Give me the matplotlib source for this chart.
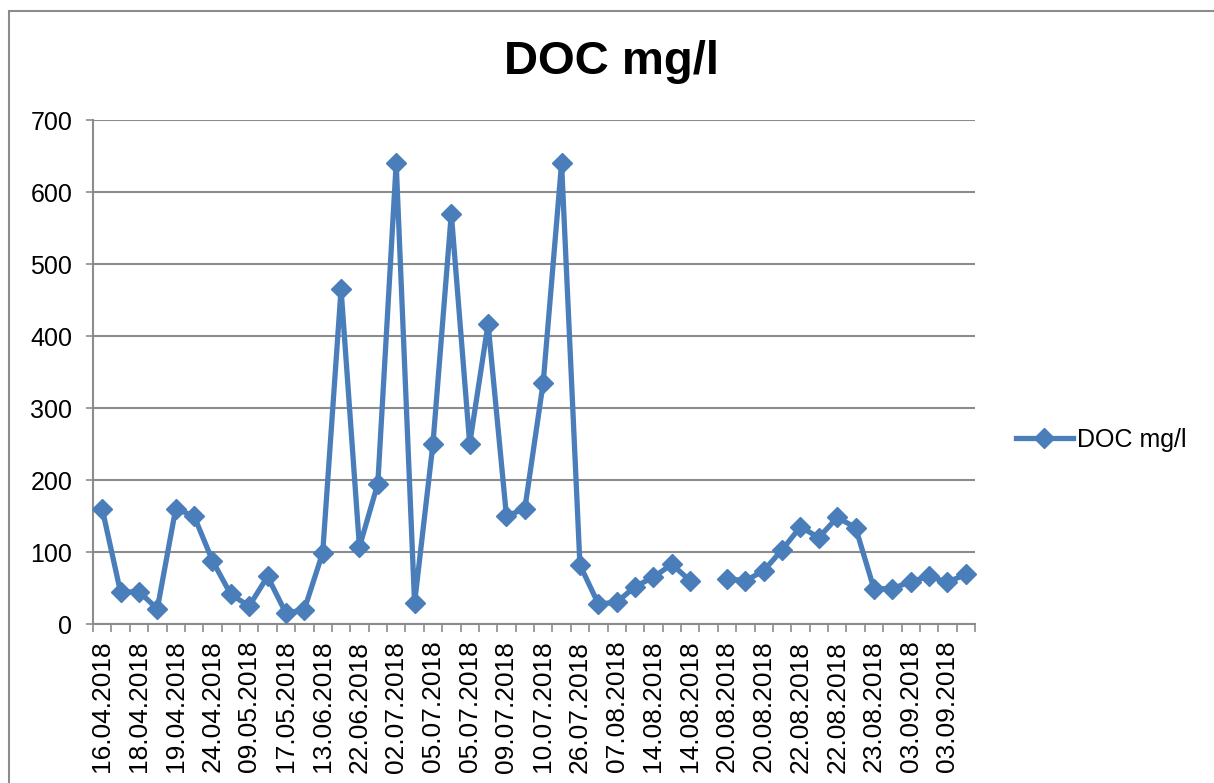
import numpy as np
import matplotlib
matplotlib.use("Agg")
import matplotlib.pyplot as plt
from matplotlib.patches import Rectangle

# DOC values per sample (one sample missing -> nan)
doc_values = [160, 44, 45, 21, 160, 150, 88, 41, 25, 66,
              15, 20, 99, 465, 107, 195, 640, 29, 250, 570,
              250, 417, 150, 160, 335, 640, 82, 28, 30, 52,
              65, 83, 60, np.nan, 63, 60, 74, 103, 135, 120,
              148, 134, 49, 49, 59, 66, 58, 69]

# only every second category label is printed on the axis
shown_labels = ["16.04.2018", "18.04.2018", "19.04.2018", "24.04.2018",
                "09.05.2018", "17.05.2018", "13.06.2018", "22.06.2018",
                "02.07.2018", "05.07.2018", "05.07.2018", "09.07.2018",
                "10.07.2018", "26.07.2018", "07.08.2018", "14.08.2018",
                "14.08.2018", "20.08.2018", "20.08.2018", "22.08.2018",
                "22.08.2018", "23.08.2018", "03.09.2018", "03.09.2018"]

y_ticks = [0, 100, 200, 300, 400, 500, 600, 700]

plt.rcParams['font.family'] = ['Liberation Sans', 'DejaVu Sans']
blue = '#4A7EBB'
grey = '#8C8C8C'

fig = plt.figure(figsize=(12.14, 7.83), dpi=100)
ax = fig.add_axes([93/1214, 1-624/783, (975-93)/1214, (624-120)/783])

x = np.arange(len(doc_values))
ax.plot(x, doc_values, color=blue, lw=3.8, marker='D', ms=10.5,
        mec=blue, mfc=blue, mew=1, label='DOC mg/l', clip_on=False, zorder=3)

ax.set_xlim(-0.5, len(doc_values) - 0.5)
ax.set_ylim(0, 700)
ax.set_yticks(y_ticks)
ax.set_yticklabels([str(v) for v in y_ticks], fontsize=18)
ax.yaxis.grid(True, color=grey, lw=1.5)
ax.set_axisbelow(True)

ax.set_xticks(x[::2])
ax.set_xticklabels(shown_labels, rotation=90, fontsize=19, va='top')
ax.set_xticks(np.arange(len(doc_values) + 1) - 0.5, minor=True)
ax.tick_params(axis='x', which='major', length=0, pad=12)
ax.tick_params(axis='x', which='minor', length=5.5, width=1.2, color=grey, direction='out')
ax.tick_params(axis='y', length=5, width=1.2, color=grey, pad=10)

for s in ['top', 'right']:
    ax.spines[s].set_visible(False)
for s in ['left', 'bottom']:
    ax.spines[s].set_color(grey)
    ax.spines[s].set_linewidth(1.5)

fig.text(612/1214, 1-62/783, 'DOC mg/l', ha='center', va='center',
         fontsize=34, fontweight='bold')

ax.legend(loc='center left', bbox_to_anchor=(1003/1214, 1-440/783),
          bbox_transform=fig.transFigure, frameon=False, fontsize=18,
          handlelength=2.3, handletextpad=0.15, borderpad=0)

# outer chart frame
fig.patches.append(Rectangle((9/1214, -0.1), 1.2, 1.1 - 11/783,
                             transform=fig.transFigure, fill=False,
                             edgecolor=grey, lw=1.5))

fig.savefig('out.png', dpi=100)
